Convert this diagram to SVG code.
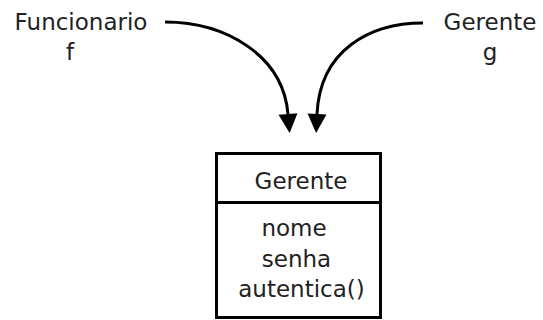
<svg xmlns="http://www.w3.org/2000/svg" width="543" height="320" viewBox="0 0 543 320">
<style>
.t{font-family:"DejaVu Sans",sans-serif;font-size:23px;fill:#222;text-anchor:middle}
.c{fill:none;stroke:#000;stroke-width:3}
.b{fill:#fff;stroke:#000;stroke-width:3}
</style>
<defs>
<marker id="ah" markerWidth="22" markerHeight="22" refX="-9" refY="0" viewBox="-11 -11 22 22" orient="auto" markerUnits="userSpaceOnUse">
<path d="M-9,-9.5 L10,0 L-9,9.5 Z" fill="#000"/>
</marker>
</defs>
<g id="label-funcionario">
<text class="t" x="81" y="30">Funcionario</text>
<text class="t" x="70" y="60">f</text>
</g>
<g id="label-gerente">
<text class="t" x="490" y="30">Gerente</text>
<text class="t" x="490" y="60">g</text>
</g>
<g id="connectors">
<path class="c" d="M165,22 C225,22 283,55 288,114" marker-end="url(#ah)"/>
<path class="c" d="M423,23 C370,23 320,50 317,114" marker-end="url(#ah)"/>
</g>
<g id="class-gerente">
<rect class="b" x="216.5" y="153.5" width="164" height="164"/>
<line x1="216" y1="202.5" x2="381" y2="202.5" stroke="#000" stroke-width="3"/>
<text class="t" x="301" y="189">Gerente</text>
<text class="t" x="294" y="236">nome</text>
<text class="t" x="296.5" y="267">senha</text>
<text class="t" x="301.5" y="297">autentica()</text>
</g>
</svg>
